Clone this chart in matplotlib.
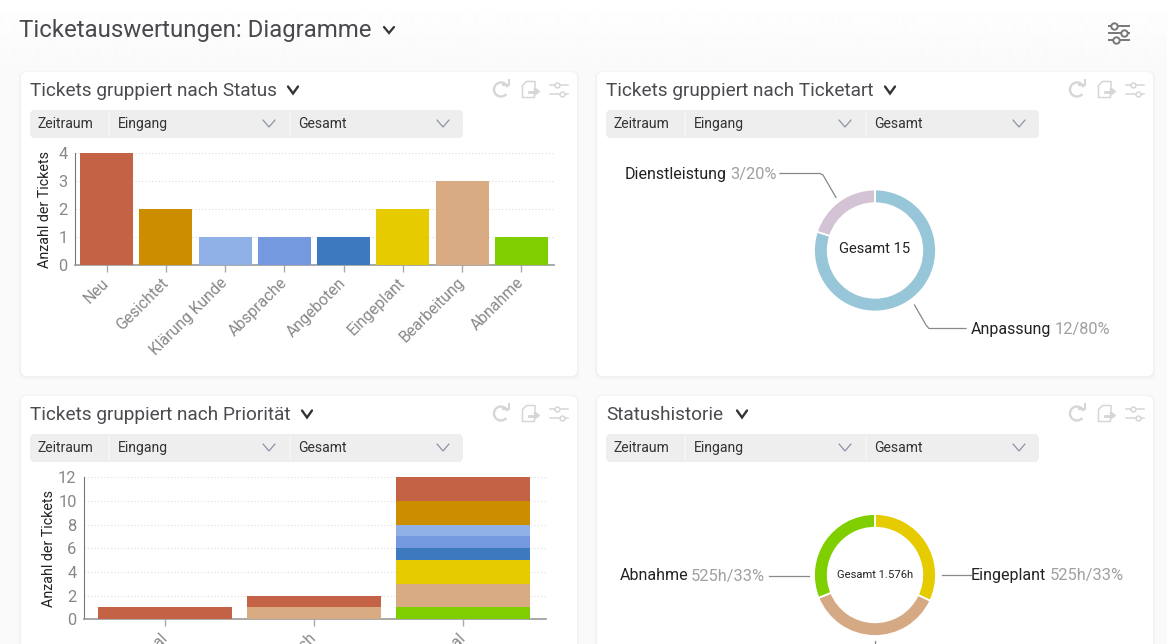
import numpy as np
import matplotlib
matplotlib.use("Agg")
import matplotlib.pyplot as plt
from matplotlib.patches import FancyBboxPatch, Arc
from matplotlib.transforms import ScaledTranslation

W, H = 1167, 644
plt.rcParams['font.family'] = ['Roboto', 'DejaVu Sans']

# ---------- data ----------
status_labels = ["Neu", "Gesichtet", "Klärung Kunde", "Absprache", "Angeboten",
                 "Eingeplant", "Bearbeitung", "Abnahme"]
status_counts = [4, 2, 1, 1, 1, 2, 3, 1]
status_colors = ["#C46245", "#CC8E00", "#8FB1E8", "#7499DF", "#3C79BF",
                 "#E5CB00", "#D9AB82", "#7FCF00"]

priority_labels = ["Minimal", "Hoch", "Normal"]
priority_stacks = {
    "Abnahme":     [0, 0, 1],
    "Bearbeitung": [0, 1, 2],
    "Eingeplant":  [0, 0, 2],
    "Angeboten":   [0, 0, 1],
    "Absprache":   [0, 0, 1],
    "Klärung Kunde": [0, 0, 1],
    "Gesichtet":   [0, 0, 2],
    "Neu":         [1, 1, 2],
}
priority_ticks = [0, 2, 4, 6, 8, 10, 12]

type_labels = ["Anpassung", "Dienstleistung"]
type_values = [12, 3]
type_texts = ["12/80%", "3/20%"]
type_colors = ["#97C6D8", "#D3C3D5"]

history_labels = ["Eingeplant", "Bearbeitung", "Abnahme"]
# ring arcs as measured on the picture (degrees); the printed labels are below
history_arcs = [115, 133, 112]
history_texts = ["525h/33%", "525h/33%"]
history_total = "Gesamt 1.576h"
history_colors = ["#E5CB00", "#D4A984", "#7FCF00"]

card_titles = ["Tickets gruppiert nach Status", "Tickets gruppiert nach Ticketart",
               "Tickets gruppiert nach Priorität", "Statushistorie"]
# ---------- layout ----------
fig = plt.figure(figsize=(W / 100, H / 100), dpi=100, facecolor="#FAFAFA")


def px_axes(x0, y0, x1, y1, **kw):
    """Axes from pixel box (top-left origin)."""
    return fig.add_axes([x0 / W, 1 - y1 / H, (x1 - x0) / W, (y1 - y0) / H], **kw)


bg = px_axes(0, 0, W, H, zorder=0)
bg.axis("off")
fs = lambda px: px * 0.72

# top fade from white to page colour
bg.imshow(np.linspace(1.0, 0.98, 60).reshape(-1, 1), cmap="gray", vmin=0, vmax=1,
          extent=(0, W, 60, 0), aspect="auto", zorder=0)
bg.set_xlim(0, W)
bg.set_ylim(H, 0)


def card(x0, y0, x1, y1):
    for g, a in ((3, .006), (2, .010), (1, .016)):
        bg.add_patch(FancyBboxPatch((x0 - g, y0 - g + 1), x1 - x0 + 2 * g, y1 - y0 + 2 * g,
                                    boxstyle="round,pad=0,rounding_size=7", fc="k", ec="none",
                                    alpha=a, zorder=1))
    bg.add_patch(FancyBboxPatch((x0, y0), x1 - x0, y1 - y0,
                                boxstyle="round,pad=0,rounding_size=6", fc="white", ec="none", zorder=2))


def chevron(cx, cy, w, h, color, lw):
    bg.plot([cx - w, cx, cx + w], [cy - h, cy + h, cy - h], color=color, lw=lw,
            solid_capstyle="round", solid_joinstyle="miter", zorder=5)


def sliders(cx, cy, color, lw, half, rows, r):
    for dy, dx in rows:
        bg.plot([cx - half, cx + half], [cy + dy] * 2, color=color, lw=lw, zorder=5)
        bg.plot([cx + dx], [cy + dy], "o", ms=r * 1.44, mfc="white", mec=color, mew=lw, zorder=6)


def icons(x_off, y_off):
    c = "#D6D6D6"
    rx = 501 + x_off
    ry = 89.5 + y_off
    bg.add_patch(Arc((rx, ry), 14, 14, angle=0, theta1=-320, theta2=-20,
                     color=c, lw=1.7, zorder=5))
    bg.plot([rx + 2, rx + 8, rx + 8], [ry - 4.5, ry - 4.5, ry - 9.5], color=c, lw=1.5, zorder=5)
    fx = 522.5 + x_off
    fy = 81.5 + y_off
    bg.plot([fx + 12, fx + 12], [fy + 5.5, fy], color=c, lw=1.1, zorder=5)
    bg.plot([fx + 12, fx + 4, fx, fx, fx + 12, fx + 12],
            [fy, fy, fy + 4, fy + 16, fy + 16, fy + 14], color=c, lw=1.1, zorder=5)
    bg.plot([fx + 6, fx + 13], [fy + 10] * 2, color=c, lw=2, zorder=5)
    bg.fill([fx + 12, fx + 17, fx + 12], [fy + 6.5, fy + 10, fy + 13.5], color=c, zorder=5)
    sliders(559 + x_off, 89 + y_off, c, 1.1, 9, [(-4.5, -2.5), (4.5, 2.5)], 2.4)


def header(x_off, y_off, title, chev_x):
    bg.text(30 + x_off, 90.5 + y_off, title, fontsize=fs(18.95), color="#4B4B50", va="center", zorder=5)
    chevron(chev_x, 90 + y_off, 5, 3.5, "#333333", 1.7)
    icons(x_off, y_off)
    bg.add_patch(FancyBboxPatch((30 + x_off, 110 + y_off), 433, 28,
                                boxstyle="round,pad=0,rounding_size=5", fc="#EEEEEE", ec="none", zorder=3))
    for s in (109, 290):
        bg.plot([s + x_off] * 2, [113 + y_off, 135 + y_off], color="#F7F7F7", lw=1.2, zorder=4)
    for tx, t in ((37.5, "Zeitraum"), (117.8, "Eingang"), (298.5, "Gesamt")):
        bg.text(tx + x_off, 123.8 + y_off, t, fontsize=fs(14), color="#333333", va="center", zorder=5)
    chevron(269 + x_off, 123.5 + y_off, 6, 3.5, "#8A93A5", 0.9)
    chevron(443 + x_off, 123.5 + y_off, 6, 3.5, "#8A93A5", 0.9)


# page title
bg.text(19, 30.5, "Ticketauswertungen: Diagramme", fontsize=fs(24), color="#48484E", va="center", zorder=5)
chevron(389, 30, 5, 3, "#333333", 1.6)
sliders(1119, 33, "#777777", 1.4, 10, [(-7.3, -5), (0, 5), (7, -3)], 3.2)

card(21, 72, 577, 376)
card(597, 72, 1153, 376)
card(21, 396, 577, 700)
card(597, 396, 1153, 700)
header(0, 0, card_titles[0], 293)
header(576, 0, card_titles[1], 890)
header(0, 324, card_titles[2], 307)
header(576, 324, card_titles[3], 742)


def style_axes(ax):
    ax.set_facecolor("none")
    for s in ("top", "right"):
        ax.spines[s].set_visible(False)
    ax.spines["left"].set_color("#777777")
    ax.spines["left"].set_linewidth(0.8)
    ax.spines["bottom"].set_color("#999999")
    ax.spines["bottom"].set_linewidth(1.2)
    ax.yaxis.grid(True, color="#DDDDDD", lw=0.8, ls=(0, (1, 2)))
    ax.set_axisbelow(True)
    ax.tick_params(axis="y", length=0, labelsize=fs(16.5), labelcolor="#888888", pad=5)
    ax.tick_params(axis="x", length=5, width=1, color="#AAAAAA", labelsize=fs(15.8),
                   labelcolor="#888888", pad=3)


def shift_xlabels(ax, dx_px, dy_px):
    off = ScaledTranslation(dx_px / 100, dy_px / 100, fig.dpi_scale_trans)
    for lab in ax.get_xticklabels():
        lab.set_transform(lab.get_transform() + off)


# ---------- status bars ----------
ax1 = px_axes(74.5, 153, 554, 265, zorder=3)
style_axes(ax1)
x1 = np.arange(len(status_labels))
ax1.bar(x1, status_counts, width=0.895, color=status_colors, linewidth=0, zorder=3)
ax1.set_xlim(-0.54, 7.55)
ax1.set_ylim(0, 4)
ax1.set_yticks([0, 1, 2, 3, 4])
ax1.set_xticks(x1)
ax1.set_xticklabels(status_labels, rotation=45, ha="right", rotation_mode="anchor")
shift_xlabels(ax1, -5, 1)
ax1.set_ylabel("Anzahl der Tickets", fontsize=fs(14.2), color="#222222", labelpad=4.5)

# ---------- priority stacked bars ----------
ax3 = px_axes(83.5, 477.3, 546, 619.3, zorder=3)
style_axes(ax3)
x3 = np.arange(len(priority_labels))
color_of = dict(zip(status_labels, status_colors))
bottom = np.zeros(len(priority_labels))
for name, vals in priority_stacks.items():
    vals = np.array(vals, float)
    ax3.bar(x3, vals, bottom=bottom, width=0.9, color=color_of[name], linewidth=0, zorder=3)
    bottom += vals
ax3.set_xlim(-0.547, 2.56)
ax3.set_ylim(0, 12)
ax3.set_yticks(priority_ticks)
ax3.set_xticks(x3)
ax3.set_xticklabels(priority_labels, rotation=45, ha="right", rotation_mode="anchor")
shift_xlabels(ax3, -5, 1)
ax3.set_ylabel("Anzahl der Tickets", fontsize=fs(14.2), color="#222222", labelpad=1.5)


# ---------- donuts ----------
def donut(cx, cy, values, colors, center_text, center_px, dy):
    R = 61
    ax = px_axes(cx - R, cy - R, cx + R, cy + R, zorder=3)
    ax.pie(values, colors=colors, startangle=90, counterclock=False, radius=1.0,
           wedgeprops=dict(width=0.225, edgecolor="white", linewidth=1.3))
    ax.set_xlim(-1, 1)
    ax.set_ylim(-1, 1)
    ax.set_aspect("equal")
    ax.text(0, dy, center_text, ha="center", va="center", fontsize=fs(center_px), color="#222222")
    return ax


donut(875, 250.5, type_values, type_colors, f"Gesamt {sum(type_values)}", 14.7, 0.03)
donut(875, 575, history_arcs, history_colors, history_total, 11.2, 0.0)


def label(x, y, name, val):
    t = bg.text(x, y, name, fontsize=fs(16), color="#222222", va="center", zorder=6)
    fig.canvas.draw()
    bb = t.get_window_extent()
    bg.text(bb.x1 + 3, y, val, fontsize=fs(16.4), color="#A0A0A0", va="center", zorder=6)


label(625, 174, type_labels[1], type_texts[1])
label(971, 329, type_labels[0], type_texts[0])
label(619.5, 576, history_labels[2], history_texts[1])
label(971, 575.5, history_labels[0], history_texts[0])

lead = "#888888"
bg.plot([780, 820, 823, 836], [173.5, 173.5, 175, 197.5], color=lead, lw=0.9, zorder=5)
bg.plot([914.5, 926, 929, 966], [305, 325, 328.5, 328.5], color=lead, lw=0.9, zorder=5)
bg.plot([768.5, 809], [575.5, 575.5], color=lead, lw=0.9, zorder=5)
bg.plot([941.5, 971], [575, 575], color=lead, lw=0.9, zorder=5)
bg.plot([875, 875], [641, 644], color=lead, lw=0.9, zorder=5)

fig.savefig("out.png", dpi=100, facecolor=fig.get_facecolor())
